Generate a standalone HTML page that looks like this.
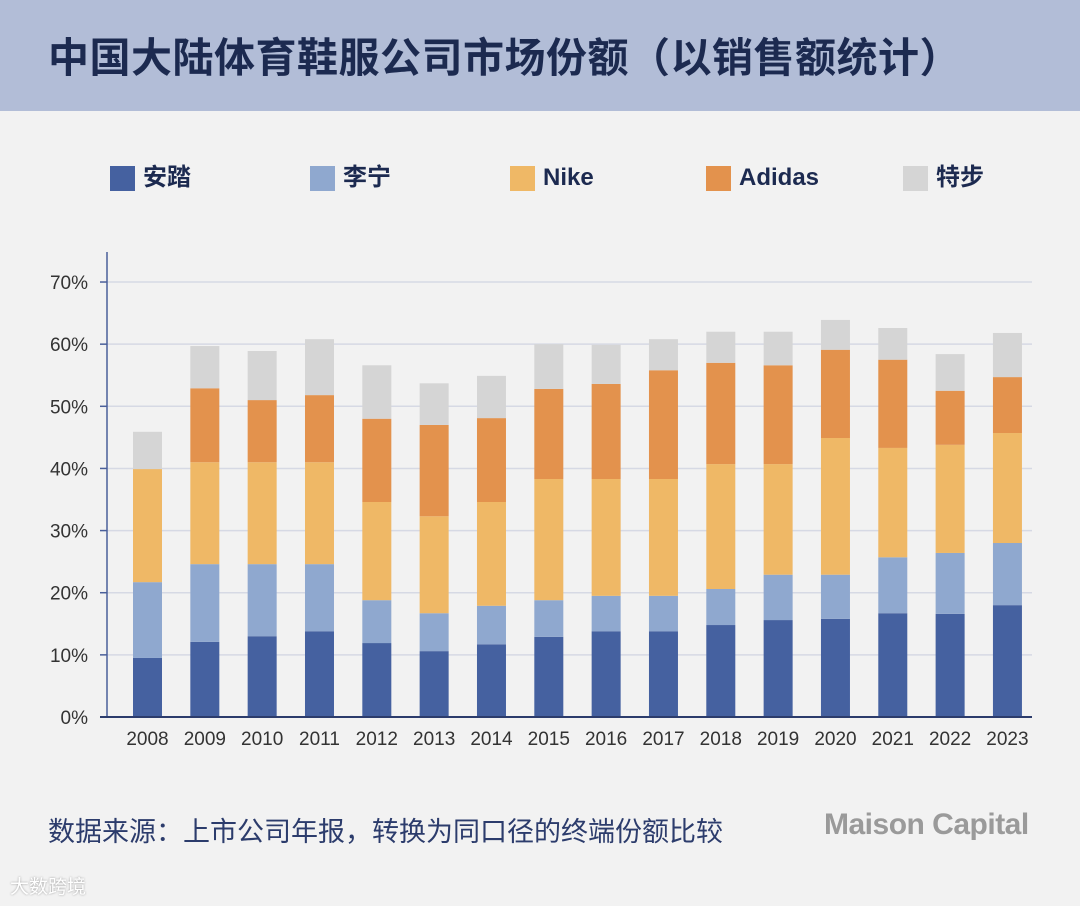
<!DOCTYPE html>
<html><head><meta charset="utf-8"><style>
body{margin:0;width:1080px;height:906px;background:#f2f2f2;font-family:"Liberation Sans","Noto Sans CJK SC",sans-serif;overflow:hidden;position:relative}
#hdr{position:absolute;left:0;top:0;width:1080px;height:111px;background:#b2bdd7}
#title{position:absolute;left:48px;top:30px;font-size:41px;font-weight:bold;color:#1c2a50;letter-spacing:0.5px;white-space:nowrap;line-height:56px}
.leg{position:absolute;top:163px;height:30px;line-height:30px;font-size:24px;color:#1c2a50;font-weight:bold;display:flex;align-items:center}
.leg span{display:block;width:25px;height:25px;margin-right:8px}
#src{position:absolute;left:48px;top:810px;font-size:27px;color:#2c3c6c;white-space:nowrap}
#logo{position:absolute;left:824px;top:808px;font-size:30px;color:#9a9a9a;font-weight:bold;letter-spacing:-0.5px;white-space:nowrap}
#wm{position:absolute;left:10px;top:872px;font-size:19px;color:#fff;text-shadow:0 0 2px #999}
</style></head><body>
<div id="hdr"></div>
<div id="title">中国大陆体育鞋服公司市场份额（以销售额统计）</div>
<div class="leg" style="left:110px"><span style="background:#4561a0"></span>安踏</div>
<div class="leg" style="left:310px"><span style="background:#8fa8cf"></span>李宁</div>
<div class="leg" style="left:510px"><span style="background:#efb866"></span>Nike</div>
<div class="leg" style="left:706px"><span style="background:#e3924d"></span>Adidas</div>
<div class="leg" style="left:903px"><span style="background:#d5d5d5"></span>特步</div>
<svg id="chart" width="1080" height="906" style="position:absolute;left:0;top:0"></svg>
<div id="src">数据来源：上市公司年报，转换为同口径的终端份额比较</div>
<div id="logo">Maison Capital</div>
<div id="wm">大数跨境</div>
<script>
const years=["2008","2009","2010","2011","2012","2013","2014","2015","2016","2017","2018","2019","2020","2021","2022","2023"];
const anta=[9.5,12.1,13,13.8,11.9,10.6,11.7,12.9,13.8,13.8,14.8,15.6,15.8,16.7,16.6,18];
const lining=[12.2,12.5,11.6,10.8,6.9,6.1,6.2,5.9,5.7,5.7,5.8,7.3,7.1,9,9.8,10];
const nike=[18.2,16.4,16.4,16.4,15.8,15.6,16.7,19.5,18.8,18.8,20.1,17.8,22,17.6,17.4,17.7];
const adidas=[0,11.9,10,10.8,13.4,14.7,13.5,14.5,15.3,17.5,16.3,15.9,14.2,14.2,8.7,9];
const xtep=[6,6.8,7.9,9,8.6,6.7,6.8,7.2,6.3,5,5,5.4,4.8,5.1,5.9,7.1];
const yTicks=[0,10,20,30,40,50,60,70];
const series=[[anta,"#4561a0","anta"],[lining,"#8fa8cf","lining"],[nike,"#efb866","nike"],[adidas,"#e3924d","adidas"],[xtep,"#d5d5d5","xtep"]];
const svg=document.getElementById('chart');const NS="http://www.w3.org/2000/svg";
const y=v=>717-v*6.214, x=i=>147.5+i*57.33;
function mk(t,a){const e=document.createElementNS(NS,t);for(const k in a)e.setAttribute(k,a[k]);svg.appendChild(e);return e;}
yTicks.forEach(t=>{
 if(t>0){const g=mk('line',{x1:107,x2:1032,y1:y(t),y2:y(t),stroke:'#d6d9e4','stroke-width':1.5});
 
 }
 const tk=mk('line',{x1:100,x2:107,y1:y(t),y2:y(t),stroke:'#4a5f9a','stroke-width':1.5});
 
 
 const l=mk('text',{x:88,y:y(t)+7,'text-anchor':'end','font-size':19,fill:'#333','font-family':'Liberation Sans'});l.textContent=t+'%';
 
 
});
years.forEach((yr,i)=>{
 let c=0;
 series.forEach(([arr,col,nm])=>{const v=arr[i];if(v>0){const r=mk('rect',{x:x(i)-14.5,y:y(c+v),width:29,height:y(c)-y(c+v),fill:col});
 
 }c+=v;});
 const l=mk('text',{x:x(i),y:745,'text-anchor':'middle','font-size':19,fill:'#333','font-family':'Liberation Sans'});l.textContent=yr;
 
 
});
const ax=mk('line',{x1:107,x2:107,y1:252,y2:717,stroke:'#4a5f9a','stroke-width':1.5});


const bx=mk('line',{x1:100,x2:1032,y1:717,y2:717,stroke:'#2c3c6c','stroke-width':2});


</script>
</body></html>
